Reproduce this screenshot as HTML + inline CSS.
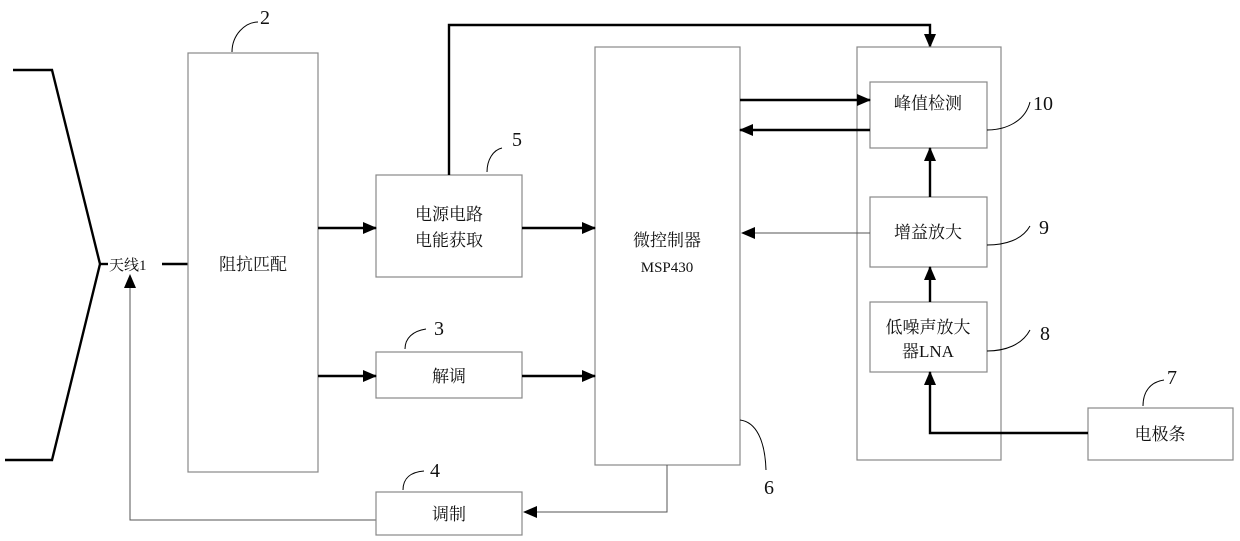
<!DOCTYPE html>
<html><head><meta charset="utf-8"><style>
html,body{margin:0;padding:0;background:#fff;}
svg{display:block;}
text{font-family:"Liberation Serif","Noto Serif CJK SC",serif;font-size:17px;fill:#111;}
.b{fill:#fff;stroke:#888;stroke-width:1.2;}
.t{stroke:#000;stroke-width:2.4;fill:none;}
.n{stroke:#555;stroke-width:1;fill:none;}
.l{stroke:#000;stroke-width:1;fill:none;}
</style></head><body>
<svg width="1240" height="541" viewBox="0 0 1240 541" xmlns="http://www.w3.org/2000/svg">
<defs>
<marker id="a" markerWidth="8" markerHeight="8" refX="7" refY="4" orient="auto" markerUnits="userSpaceOnUse"><path d="M0,0 L8,4 L0,8z" fill="#000"/></marker>
<marker id="A" markerWidth="14" markerHeight="12" refX="13" refY="6" orient="auto" markerUnits="userSpaceOnUse"><path d="M0,0 L14,6 L0,12z" fill="#000"/></marker>
</defs>
<!-- antenna -->
<polyline class="t" points="13,70 52,70 100,264 52,460 5,460"/>
<line class="t" x1="100" y1="264" x2="108" y2="264"/>
<line class="t" x1="162" y1="264" x2="188" y2="264"/>
<text x="109" y="270" style="font-size:15px">天线1</text>
<polyline class="n" points="376,520 130,520 130,275" marker-end="url(#A)"/>
<!-- box 2 -->
<rect class="b" x="188" y="53" width="130" height="419"/>
<text x="253" y="270" text-anchor="middle">阻抗匹配</text>
<path class="l" d="M232,52 C232,35 245,22 258,22"/><text x="260" y="24" style="font-size:20px">2</text>
<!-- box 5 -->
<rect class="b" x="376" y="175" width="146" height="102"/>
<text x="449" y="220" text-anchor="middle">电源电路</text>
<text x="449" y="246" text-anchor="middle">电能获取</text>
<path class="l" d="M487,172 C487,160 493,150 502,148"/><text x="512" y="146" style="font-size:20px">5</text>
<line class="t" x1="318" y1="228" x2="376" y2="228" marker-end="url(#A)"/>
<polyline class="t" points="449,175 449,25 930,25 930,47" marker-end="url(#A)"/>
<!-- box 3 -->
<rect class="b" x="376" y="352" width="146" height="46"/>
<text x="449" y="382" text-anchor="middle">解调</text>
<path class="l" d="M405,349 C405,338 413,331 426,329"/><text x="434" y="335" style="font-size:20px">3</text>
<line class="t" x1="318" y1="376" x2="376" y2="376" marker-end="url(#A)"/>
<!-- box 4 -->
<rect class="b" x="376" y="492" width="146" height="43"/>
<text x="449" y="520" text-anchor="middle">调制</text>
<path class="l" d="M403,490 C403,478 411,472 424,471"/><text x="430" y="477" style="font-size:20px">4</text>
<!-- box 6 -->
<rect class="b" x="595" y="47" width="145" height="418"/>
<text x="667" y="246" text-anchor="middle">微控制器</text>
<text x="667" y="272" text-anchor="middle" style="font-size:15px">MSP430</text>
<path class="l" d="M740,420 C756,422 765,440 766,470"/><text x="764" y="494" style="font-size:20px">6</text>
<line class="t" x1="522" y1="228" x2="595" y2="228" marker-end="url(#A)"/>
<line class="t" x1="522" y1="376" x2="595" y2="376" marker-end="url(#A)"/>
<polyline class="n" points="667,465 667,512 524,512" marker-end="url(#A)"/>
<!-- big box -->
<rect class="b" x="857" y="47" width="144" height="413"/>
<rect class="b" x="870" y="82" width="117" height="66"/>
<text x="928" y="109" text-anchor="middle">峰值检测</text>
<path class="l" d="M987,130 C1005,130 1025,122 1030,102"/><text x="1033" y="110" style="font-size:20px">10</text>
<line class="t" x1="740" y1="100" x2="870" y2="100" marker-end="url(#A)"/>
<line class="t" x1="870" y1="130" x2="740" y2="130" marker-end="url(#A)"/>
<rect class="b" x="870" y="197" width="117" height="70"/>
<text x="928" y="238" text-anchor="middle">增益放大</text>
<path class="l" d="M987,245 C1005,245 1022,240 1030,226"/><text x="1039" y="234" style="font-size:20px">9</text>
<line class="t" x1="930" y1="197" x2="930" y2="148" marker-end="url(#A)"/>
<line class="n" x1="870" y1="233" x2="742" y2="233" marker-end="url(#A)"/>
<rect class="b" x="870" y="302" width="117" height="70"/>
<text x="928" y="333" text-anchor="middle">低噪声放大</text>
<text x="928" y="357" text-anchor="middle">器LNA</text>
<path class="l" d="M987,351 C1005,351 1022,345 1030,330"/><text x="1040" y="340" style="font-size:20px">8</text>
<line class="t" x1="930" y1="302" x2="930" y2="267" marker-end="url(#A)"/>
<!-- 电极条 -->
<rect class="b" x="1088" y="408" width="145" height="52"/>
<text x="1160" y="440" text-anchor="middle">电极条</text>
<path class="l" d="M1143,406 C1143,392 1150,382 1164,380"/><text x="1167" y="384" style="font-size:20px">7</text>
<polyline class="t" points="1088,433 930,433 930,372" marker-end="url(#A)"/>
</svg>
</body></html>
